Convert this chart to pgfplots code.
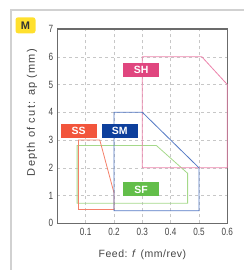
\documentclass[border=0pt]{standalone}
\usepackage{pgfplots}
\pgfplotsset{compat=1.18}
\usepackage{fontspec}
\setmainfont{Liberation Sans}
\newfontfamily\tickfont{Liberation Sans}[FakeStretch=0.78]
\newfontfamily\xlabfont{Liberation Sans}[LetterSpace=5]
\newfontfamily\ylabfont{Liberation Sans}[LetterSpace=11]
\definecolor{ssline}{HTML}{F5806A}
\definecolor{ssbox}{HTML}{F2553C}
\definecolor{smline}{HTML}{5479C4}
\definecolor{smbox}{HTML}{0D3F9C}
\definecolor{shline}{HTML}{EC82AB}
\definecolor{shbox}{HTML}{E0467F}
\definecolor{sfline}{HTML}{A5D98A}
\definecolor{sfbox}{HTML}{63BE4A}
\definecolor{badge}{HTML}{FFE02E}
\definecolor{txt}{HTML}{444444}
\begin{document}
\begin{tikzpicture}[x=1pt,y=1pt]
\useasboundingbox (0,0) rectangle (244,271);
\draw[line width=1.5pt, color=black!18] (11,1) -- (11,261) -- (244,261);
\node[fill=badge, rounded corners=2.5pt, minimum width=20pt, minimum height=16pt, inner sep=0pt, text=black!80, font=\bfseries\fontsize{11}{11}\selectfont] at (25.5,245.7) {M};
\begin{axis}[
  at={(57.3pt,47.7pt)}, anchor=south west,
  scale only axis, width=170pt, height=194.3pt,
  xmin=0, xmax=0.6, ymin=0, ymax=7,
  xtick={0.1,0.2,0.3,0.4,0.5,0.6},
  ytick={0,1,2,3,4,5,6,7},
  xticklabels={0.1,0.2,0.3,0.4,0.5,0.6},
  major tick length=0pt,
  grid=major,
  grid style={dashed, color=black!22, line width=0.5pt},
  axis line style={color=black!58, line width=1.2pt},
  tick label style={font=\tickfont\fontsize{10.5}{11}\selectfont, text=txt},
  /pgf/number format/assume math mode=true,
  xticklabel style={yshift=-1.5pt},
  yticklabel style={xshift=-0.5pt},
  xlabel={Feed: \textit{f}\hspace{4pt}(mm/rev)},
  ylabel={Depth of cut: ap (mm)},
  xlabel style={font=\xlabfont\fontsize{10.5}{11}\selectfont, text=txt, at={(axis description cs:0.501,-0.163)}, anchor=center},
  ylabel style={font=\ylabfont\fontsize{11}{12}\selectfont, text=txt, at={(axis description cs:-0.149,0.57)}, anchor=center},
  clip=false,
]
\addplot[color=sfline, line width=0.8pt] coordinates {(0.07,0.72) (0.07,2.8) (0.35,2.8) (0.46,1.8) (0.46,0.72)} -- cycle;
\addplot[color=ssline, line width=0.8pt] coordinates {(0.075,0.5) (0.075,3.0) (0.15,3.0) (0.2,1.1) (0.2,0.5)} -- cycle;
\addplot[color=shline, line width=0.8pt] coordinates {(0.3,2.0) (0.3,6.0) (0.51,6.0) (0.6,5.0) (0.6,2.0)} -- cycle;
\addplot[color=smline, line width=0.8pt] coordinates {(0.2,0.45) (0.2,4.0) (0.3,4.0) (0.5,2.0) (0.5,0.45)} -- cycle;
\node[fill=shbox, minimum width=36pt, minimum height=14pt, inner sep=0pt, text=white, font=\bfseries\fontsize{10.5}{11}\selectfont] at (axis cs:0.296,5.53) {SH};
\node[fill=ssbox, minimum width=36pt, minimum height=14pt, inner sep=0pt, text=white, font=\bfseries\fontsize{10.5}{11}\selectfont] at (axis cs:0.075,3.34) {SS};
\node[fill=smbox, minimum width=36pt, minimum height=14pt, inner sep=0pt, text=white, font=\bfseries\fontsize{10.5}{11}\selectfont] at (axis cs:0.22,3.34) {SM};
\node[fill=sfbox, minimum width=36pt, minimum height=14pt, inner sep=0pt, text=white, font=\bfseries\fontsize{10.5}{11}\selectfont] at (axis cs:0.296,1.22) {SF};
\end{axis}
\end{tikzpicture}
\end{document}
